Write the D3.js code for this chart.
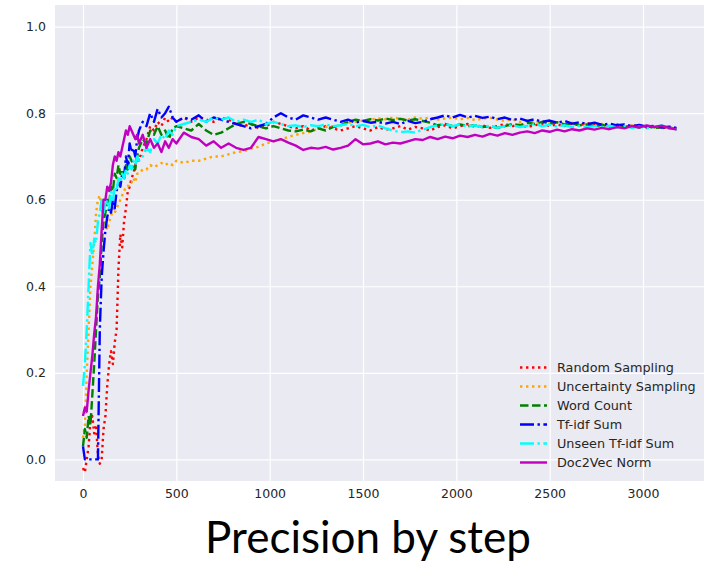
<!DOCTYPE html>
<html>
<head>
<meta charset="utf-8">
<script src="https://cdn.jsdelivr.net/npm/d3@7"></script>
<style>
  body { margin: 0; background: #fff; }
  svg { display: block; }
</style>
</head>
<body>
<div id="chart"></div>
<script>
// steps (x values) shared by every series
var steps = [
  0, 10, 20, 30, 40, 50, 60, 70, 80, 90,
  100, 110, 120, 130, 140, 150, 160, 170, 180, 190,
  200, 210, 220, 230, 240, 250, 260, 270, 280, 290, 300,
  320, 340, 360, 380, 400, 420, 440, 460, 480, 500,
  540, 580, 620, 660, 700, 740, 780, 820, 860, 900,
  940, 980, 1020, 1060, 1100, 1140, 1180, 1220, 1260, 1300,
  1340, 1380, 1420, 1460, 1500, 1540, 1580, 1620, 1660, 1700,
  1740, 1780, 1820, 1860, 1900, 1940, 1980, 2020, 2060, 2100,
  2140, 2180, 2220, 2260, 2300, 2340, 2380, 2420, 2460, 2500,
  2540, 2580, 2620, 2660, 2700, 2740, 2780, 2820, 2860, 2900,
  2940, 2980, 3020, 3060, 3100, 3140, 3180
];

var randomSampling = [
  -0.02, -0.03, 0.0, 0.03, 0.09, 0.1, 0.06, 0.08, 0.01, -0.01,
  0.0, 0.07, 0.1, 0.17, 0.22, 0.25, 0.22, 0.27, 0.3, 0.44,
  0.52, 0.49, 0.55, 0.58, 0.62, 0.63, 0.65, 0.66, 0.68, 0.7, 0.69,
  0.72, 0.74, 0.77, 0.76, 0.78, 0.77, 0.79, 0.78, 0.79, 0.78,
  0.79, 0.78, 0.79, 0.785, 0.78, 0.79, 0.785, 0.775, 0.77, 0.775,
  0.765, 0.77, 0.78, 0.775, 0.77, 0.765, 0.77, 0.76, 0.765, 0.77,
  0.765, 0.76, 0.765, 0.77, 0.765, 0.76, 0.768, 0.762, 0.765, 0.77,
  0.762, 0.768, 0.765, 0.76, 0.768, 0.772, 0.765, 0.77, 0.775, 0.768,
  0.772, 0.766, 0.77, 0.775, 0.77, 0.773, 0.768, 0.772, 0.776, 0.77,
  0.774, 0.77, 0.776, 0.772, 0.777, 0.772, 0.775, 0.77, 0.774, 0.768,
  0.772, 0.77, 0.766, 0.77, 0.765, 0.768, 0.764
];

var uncertaintySampling = [
  0.05, 0.08, 0.2, 0.3, 0.4, 0.45, 0.5, 0.57, 0.6, 0.61,
  0.58, 0.56, 0.55, 0.53, 0.55, 0.56, 0.58, 0.57, 0.58, 0.59,
  0.6, 0.61, 0.62, 0.63, 0.63, 0.64, 0.64, 0.65, 0.64, 0.66, 0.66,
  0.67, 0.67, 0.68, 0.675, 0.68, 0.685, 0.68, 0.685, 0.68, 0.69,
  0.685, 0.69, 0.69, 0.695, 0.7, 0.7, 0.705, 0.71, 0.712, 0.718,
  0.722, 0.73, 0.735, 0.74, 0.745, 0.75, 0.754, 0.758, 0.764, 0.768,
  0.77, 0.772, 0.778, 0.78, 0.783, 0.785, 0.788, 0.786, 0.79, 0.787,
  0.785, 0.79, 0.787, 0.79, 0.785, 0.788, 0.79, 0.786, 0.789, 0.784,
  0.787, 0.79, 0.785, 0.782, 0.786, 0.78, 0.783, 0.778, 0.781, 0.776,
  0.78, 0.775, 0.778, 0.774, 0.776, 0.772, 0.775, 0.77, 0.773, 0.768,
  0.772, 0.768, 0.77, 0.767, 0.769, 0.766, 0.765
];

var wordCount = [
  0.03, 0.07, 0.05, 0.1, 0.08, 0.15, 0.22, 0.3, 0.38, 0.42,
  0.5, 0.55, 0.57, 0.6, 0.59, 0.63, 0.62, 0.66, 0.65, 0.68,
  0.66, 0.67, 0.65, 0.68, 0.67, 0.7, 0.69, 0.68, 0.67, 0.7, 0.72,
  0.74, 0.73, 0.76, 0.75, 0.77, 0.75, 0.76, 0.74, 0.765, 0.77,
  0.765, 0.76, 0.775, 0.76, 0.75, 0.755, 0.765, 0.775, 0.78, 0.775,
  0.77, 0.765, 0.77, 0.765, 0.76, 0.758, 0.762, 0.758, 0.765, 0.76,
  0.768, 0.772, 0.78, 0.785, 0.782, 0.786, 0.783, 0.788, 0.784, 0.787,
  0.783, 0.786, 0.782, 0.778, 0.772, 0.775, 0.77, 0.774, 0.77, 0.772,
  0.768, 0.77, 0.766, 0.77, 0.775, 0.772, 0.778, 0.775, 0.78, 0.776,
  0.779, 0.774, 0.776, 0.772, 0.774, 0.77, 0.773, 0.769, 0.772, 0.768,
  0.771, 0.767, 0.77, 0.766, 0.768, 0.765, 0.764
];

var tfidfSum = [
  0.03, 0.0, 0.0, 0.0, 0.0, 0.0, 0.0, 0.0, 0.0, 0.3,
  0.42, 0.48, 0.53, 0.56, 0.58, 0.57, 0.6, 0.58, 0.62, 0.64,
  0.63, 0.66, 0.65, 0.7, 0.68, 0.73, 0.71, 0.72, 0.7, 0.74, 0.76,
  0.78, 0.77, 0.8, 0.78, 0.81, 0.79, 0.8, 0.815, 0.79, 0.78,
  0.79, 0.785, 0.795, 0.78, 0.79, 0.785, 0.78, 0.775, 0.77, 0.765,
  0.77, 0.775, 0.79, 0.8, 0.79, 0.785, 0.795, 0.79, 0.785, 0.79,
  0.785, 0.78, 0.785, 0.778, 0.782, 0.778, 0.78, 0.776, 0.78, 0.775,
  0.782, 0.777, 0.78, 0.786, 0.79, 0.795, 0.79, 0.796, 0.79, 0.794,
  0.789, 0.792, 0.786, 0.79, 0.784, 0.788, 0.782, 0.786, 0.78, 0.783,
  0.778, 0.782, 0.776, 0.779, 0.775, 0.778, 0.773, 0.776, 0.772, 0.774,
  0.77, 0.773, 0.769, 0.771, 0.767, 0.769, 0.766
];

var unseenTfidfSum = [
  0.17, 0.22, 0.3, 0.4, 0.5, 0.47, 0.51, 0.5, 0.55, 0.57,
  0.6, 0.57, 0.59, 0.6, 0.58, 0.62, 0.6, 0.63, 0.62, 0.65,
  0.64, 0.66, 0.65, 0.67, 0.66, 0.68, 0.67, 0.69, 0.68, 0.7, 0.69,
  0.7, 0.72, 0.71, 0.74, 0.73, 0.75, 0.74, 0.76, 0.75, 0.77,
  0.775, 0.78, 0.785, 0.78, 0.79, 0.785, 0.79, 0.78, 0.785, 0.78,
  0.785, 0.775, 0.78, 0.775, 0.77, 0.772, 0.768, 0.772, 0.77, 0.774,
  0.77, 0.772, 0.775, 0.77, 0.773, 0.768, 0.772, 0.765, 0.76, 0.756,
  0.758, 0.755, 0.762, 0.768, 0.772, 0.775, 0.77, 0.774, 0.769, 0.772,
  0.768, 0.771, 0.766, 0.77, 0.772, 0.768, 0.771, 0.775, 0.77, 0.773,
  0.769, 0.772, 0.768, 0.771, 0.767, 0.77, 0.768, 0.771, 0.767, 0.77,
  0.766, 0.769, 0.765, 0.768, 0.772, 0.766, 0.763
];

var doc2vecNorm = [
  0.1, 0.12, 0.11, 0.16, 0.2, 0.24, 0.29, 0.33, 0.4, 0.45,
  0.53, 0.6, 0.6, 0.63, 0.62, 0.64, 0.68, 0.7, 0.69, 0.71,
  0.7, 0.72, 0.74, 0.76, 0.75, 0.77, 0.76, 0.75, 0.74, 0.75, 0.73,
  0.75, 0.72, 0.74, 0.72, 0.73, 0.71, 0.735, 0.72, 0.74, 0.73,
  0.755, 0.745, 0.74, 0.725, 0.735, 0.72, 0.73, 0.72, 0.715, 0.72,
  0.745, 0.74, 0.735, 0.74, 0.732, 0.725, 0.715, 0.72, 0.718, 0.722,
  0.716, 0.72, 0.725, 0.74, 0.728, 0.73, 0.735, 0.728, 0.732, 0.73,
  0.735, 0.74, 0.738, 0.745, 0.74, 0.746, 0.742, 0.748, 0.745, 0.75,
  0.746, 0.752, 0.748, 0.754, 0.75, 0.755, 0.758, 0.754, 0.76, 0.757,
  0.762, 0.758, 0.763, 0.76, 0.765, 0.762, 0.766, 0.763, 0.768, 0.765,
  0.77, 0.767, 0.772, 0.768, 0.771, 0.766, 0.762
];

var seriesNames = ["Random Sampling", "Uncertainty Sampling", "Word Count",
  "Tf-idf Sum", "Unseen Tf-idf Sum", "Doc2Vec Norm"];
var seriesValues = [randomSampling, uncertaintySampling, wordCount,
  tfidfSum, unseenTfidfSum, doc2vecNorm];
var seriesColors = ["#ff0000", "#ffa500", "#008000", "#0000ff", "#00ffff", "#bf00bf"];
var seriesDash = ["2.4,3.6", "2.4,3.6", "8.5,3.5", "14,3.5,2.4,3.5", "14,3.5,2.4,3.5", null];

var xTicks = [0, 500, 1000, 1500, 2000, 2500, 3000];
var yTicks = [0.0, 0.2, 0.4, 0.6, 0.8, 1.0];

var W = 704, H = 561;
var plot = { left: 55, top: 5, right: 704, bottom: 481 };

var svg = d3.select("#chart")
    .append("svg")
    .attr("width", W)
    .attr("height", H);

var x = d3.scaleLinear()
    .domain([-150, 3326.8])
    .range([plot.left, plot.right]);

var y = d3.scaleLinear()
    .domain([-0.05, 1.05])
    .range([plot.bottom, plot.top]);

svg.append("defs")
    .append("clipPath")
    .attr("id", "plotClip")
    .append("rect")
    .attr("x", plot.left)
    .attr("y", plot.top)
    .attr("width", plot.right - plot.left)
    .attr("height", plot.bottom - plot.top);

// background
svg.append("rect")
    .attr("x", plot.left)
    .attr("y", plot.top)
    .attr("width", plot.right - plot.left)
    .attr("height", plot.bottom - plot.top)
    .attr("fill", "#eaeaf2");

// grid + tick labels via axes
var xAxis = svg.append("g")
    .attr("transform", "translate(0," + plot.bottom + ")")
    .call(d3.axisBottom(x).tickValues(xTicks).tickFormat(d3.format("d"))
        .tickSize(-(plot.bottom - plot.top)).tickPadding(8));

var yAxis = svg.append("g")
    .attr("transform", "translate(" + plot.left + ",0)")
    .call(d3.axisLeft(y).tickValues(yTicks).tickFormat(d3.format(".1f"))
        .tickSize(-(plot.right - plot.left)).tickPadding(9));

[xAxis, yAxis].forEach(function (ax) {
    ax.select(".domain").remove();
    ax.selectAll(".tick line")
        .attr("stroke", "#ffffff")
        .attr("stroke-width", 1.2);
    ax.selectAll(".tick text")
        .attr("fill", "#262626")
        .style("font-family", "DejaVu Sans, sans-serif")
        .style("font-size", "12.5px");
});

var line = d3.line()
    .x(function (d) { return x(d[0]); })
    .y(function (d) { return y(d[1]); });

var lines = svg.append("g").attr("clip-path", "url(#plotClip)");

seriesValues.forEach(function (vals, i) {
    var pts = steps.map(function (s, j) { return [s, vals[j]]; });
    lines.append("path")
        .datum(pts)
        .attr("d", line)
        .attr("fill", "none")
        .attr("stroke", seriesColors[i])
        .attr("stroke-width", 2.4)
        .attr("stroke-linejoin", "round")
        .attr("stroke-dasharray", seriesDash[i]);
});

// legend
var legend = svg.append("g").attr("transform", "translate(520,367.5)");
seriesNames.forEach(function (name, i) {
    var row = legend.append("g").attr("transform", "translate(0," + (i * 19) + ")");
    row.append("line")
        .attr("x1", 0).attr("x2", 27)
        .attr("y1", 0).attr("y2", 0)
        .attr("stroke", seriesColors[i])
        .attr("stroke-width", 2.4)
        .attr("stroke-dasharray", seriesDash[i]);
    row.append("text")
        .attr("x", 37)
        .attr("y", 0)
        .attr("dy", "0.35em")
        .attr("fill", "#262626")
        .style("font-family", "DejaVu Sans, sans-serif")
        .style("font-size", "12.8px")
        .text(name);
});

// caption below the chart
svg.append("text")
    .attr("x", 368)
    .attr("y", 553)
    .attr("text-anchor", "middle")
    .attr("fill", "#000")
    .style("font-family", "Lato, sans-serif")
    .style("font-size", "44px")
    .text("Precision by step");
</script>
</body>
</html>
